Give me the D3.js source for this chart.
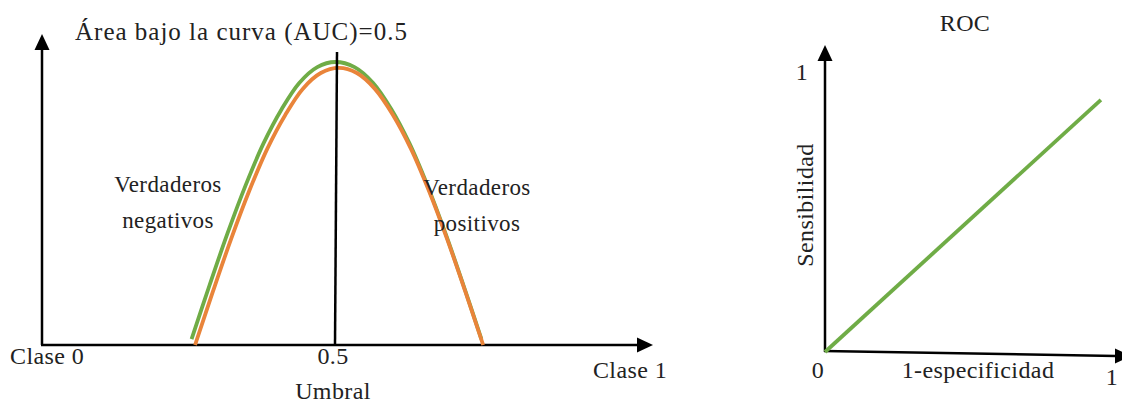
<!DOCTYPE html>
<html>
  <head>
    <meta charset="utf-8">
    <script src="https://d3js.org/d3.v7.min.js"></script>
    <style>
      body { margin: 0; background: #fff; }
      svg { display: block; }
      text { font-family: "Liberation Serif", serif; fill: #222; letter-spacing: 0.4px; }
    </style>
  </head>
<body>
<script type="text/javascript">
"use strict";

// threshold (x) and density (y)
var negX = [0.257, 0.288, 0.319, 0.350, 0.381, 0.412, 0.442, 0.473, 0.504, 0.537, 0.569, 0.600, 0.631, 0.662, 0.693, 0.724, 0.755];
var negY = [0.021, 0.212, 0.396, 0.565, 0.714, 0.834, 0.926, 0.982, 1.000, 0.982, 0.926, 0.834, 0.714, 0.565, 0.396, 0.212, 0.021];
var posX = [0.263, 0.294, 0.325, 0.356, 0.387, 0.418, 0.448, 0.479, 0.510, 0.541, 0.572, 0.603, 0.634, 0.665, 0.696, 0.727, 0.758];
var posY = [0.000, 0.191, 0.375, 0.544, 0.693, 0.813, 0.905, 0.961, 0.979, 0.961, 0.905, 0.813, 0.693, 0.544, 0.375, 0.191, 0.000];
var threshold = 0.5;
var thresholdTop = 1.035;

var rocX = [0, 0.958];
var rocY = [0, 0.91];

var title = "Área bajo la curva (AUC)=0.5";
var classLabels = ["Clase 0", "Clase 1"];
var xTitle = "Umbral";
var negLabel = ["Verdaderos", "negativos"];
var posLabel = ["Verdaderos", "positivos"];
var rocTitle = "ROC";
var rocXTitle = "1-especificidad";
var rocYTitle = "Sensibilidad";
var rocTicks = ["0", "1"];

var width = 1122, height = 404;
var green = "#6fac46", orange = "#e9843a";

var svg = d3.select("body").append("svg")
    .attr("width", width)
    .attr("height", height);

function arrow(g, x, y, dir) {
  // small filled triangle, tip at (x, y)
  var p;
  if (dir === "up") p = [[x, y], [x - 7.5, y + 16], [x + 7.5, y + 16]];
  else p = [[x, y], [x - 16, y - 7.5], [x - 16, y + 7.5]];
  g.append("path").attr("d", "M" + p.join("L") + "Z").attr("fill", "#000");
}

// ---------- left: class distributions ----------
var x = d3.scaleLinear().domain([0, 1]).range([42, 624]);
var y = d3.scaleLinear().domain([0, 1]).range([345, 62]);

var left = svg.append("g");

left.append("line")
    .attr("x1", x(0)).attr("y1", y(0))
    .attr("x2", x(0)).attr("y2", 48)
    .attr("stroke", "#000").attr("stroke-width", 2.5);
arrow(left, x(0), 34, "up");

left.append("line")
    .attr("x1", x(0) - 1).attr("y1", y(0))
    .attr("x2", 638).attr("y2", y(0))
    .attr("stroke", "#000").attr("stroke-width", 2.5);
arrow(left, 653, y(0), "right");

var line = d3.line()
    .x(function(d) { return x(d[0]); })
    .y(function(d) { return y(d[1]); })
    .curve(d3.curveCatmullRom);

left.append("path")
    .datum(d3.zip(negX, negY))
    .attr("d", line)
    .attr("fill", "none")
    .attr("stroke", green)
    .attr("stroke-width", 3.8);

left.append("path")
    .datum(d3.zip(posX, posY))
    .attr("d", line)
    .attr("fill", "none")
    .attr("stroke", orange)
    .attr("stroke-width", 3.8);

left.append("line")
    .attr("x1", x(threshold) + 2).attr("y1", y(0))
    .attr("x2", x(threshold) + 4).attr("y2", y(thresholdTop))
    .attr("stroke", "#000").attr("stroke-width", 2.5);

left.append("text")
    .attr("x", 75).attr("y", 40)
    .style("font-size", "25px")
    .style("letter-spacing", "1px")
    .text(title);

left.append("text")
    .attr("x", 10).attr("y", 364)
    .style("font-size", "24px")
    .text(classLabels[0]);

left.append("text")
    .attr("x", x(threshold)).attr("y", 364)
    .attr("text-anchor", "middle")
    .style("font-size", "24px")
    .text(threshold);

left.append("text")
    .attr("x", 630).attr("y", 378)
    .attr("text-anchor", "middle")
    .style("font-size", "24px")
    .text(classLabels[1]);

left.append("text")
    .attr("x", x(threshold)).attr("y", 399)
    .attr("text-anchor", "middle")
    .style("font-size", "24px")
    .text(xTitle);

negLabel.forEach(function(t, i) {
  left.append("text")
      .attr("x", 168).attr("y", 192 + i * 36)
      .attr("text-anchor", "middle")
      .style("font-size", "23px")
      .text(t);
});

posLabel.forEach(function(t, i) {
  left.append("text")
      .attr("x", 477).attr("y", 195 + i * 36)
      .attr("text-anchor", "middle")
      .style("font-size", "23px")
      .text(t);
});

// ---------- right: ROC ----------
var rx = d3.scaleLinear().domain([0, 1]).range([825, 1113]);
var ry = d3.scaleLinear().domain([0, 1]).range([352, 75]);

var right = svg.append("g");

right.append("line")
    .attr("x1", rx(0)).attr("y1", ry(0))
    .attr("x2", rx(0)).attr("y2", 60)
    .attr("stroke", "#000").attr("stroke-width", 2.5);
arrow(right, rx(0), 45, "up");

right.append("line")
    .attr("x1", rx(0) - 1).attr("y1", ry(0) - 1)
    .attr("x2", 1116).attr("y2", ry(0) + 4)
    .attr("stroke", "#000").attr("stroke-width", 2.5);
arrow(right, 1131, ry(0) + 4, "right");

right.append("path")
    .datum(d3.zip(rocX, rocY))
    .attr("d", d3.line()
        .x(function(d) { return rx(d[0]); })
        .y(function(d) { return ry(d[1]); }))
    .attr("fill", "none")
    .attr("stroke", green)
    .attr("stroke-width", 3.8);

right.append("text")
    .attr("x", 965).attr("y", 31)
    .attr("text-anchor", "middle")
    .style("font-size", "24px")
    .text(rocTitle);

right.append("text")
    .attr("x", 802).attr("y", 80)
    .attr("text-anchor", "middle")
    .style("font-size", "24px")
    .text(rocTicks[1]);

right.append("text")
    .attr("x", 818).attr("y", 378)
    .attr("text-anchor", "middle")
    .style("font-size", "24px")
    .text(rocTicks[0]);

right.append("text")
    .attr("x", 1112).attr("y", 385)
    .attr("text-anchor", "middle")
    .style("font-size", "24px")
    .text(rocTicks[1]);

right.append("text")
    .attr("x", 978).attr("y", 378)
    .attr("text-anchor", "middle")
    .style("font-size", "24px")
    .text(rocXTitle);

right.append("text")
    .attr("transform", "translate(813,205) rotate(-90)")
    .attr("text-anchor", "middle")
    .style("font-size", "24px")
    .text(rocYTitle);
</script>
</body>
</html>
